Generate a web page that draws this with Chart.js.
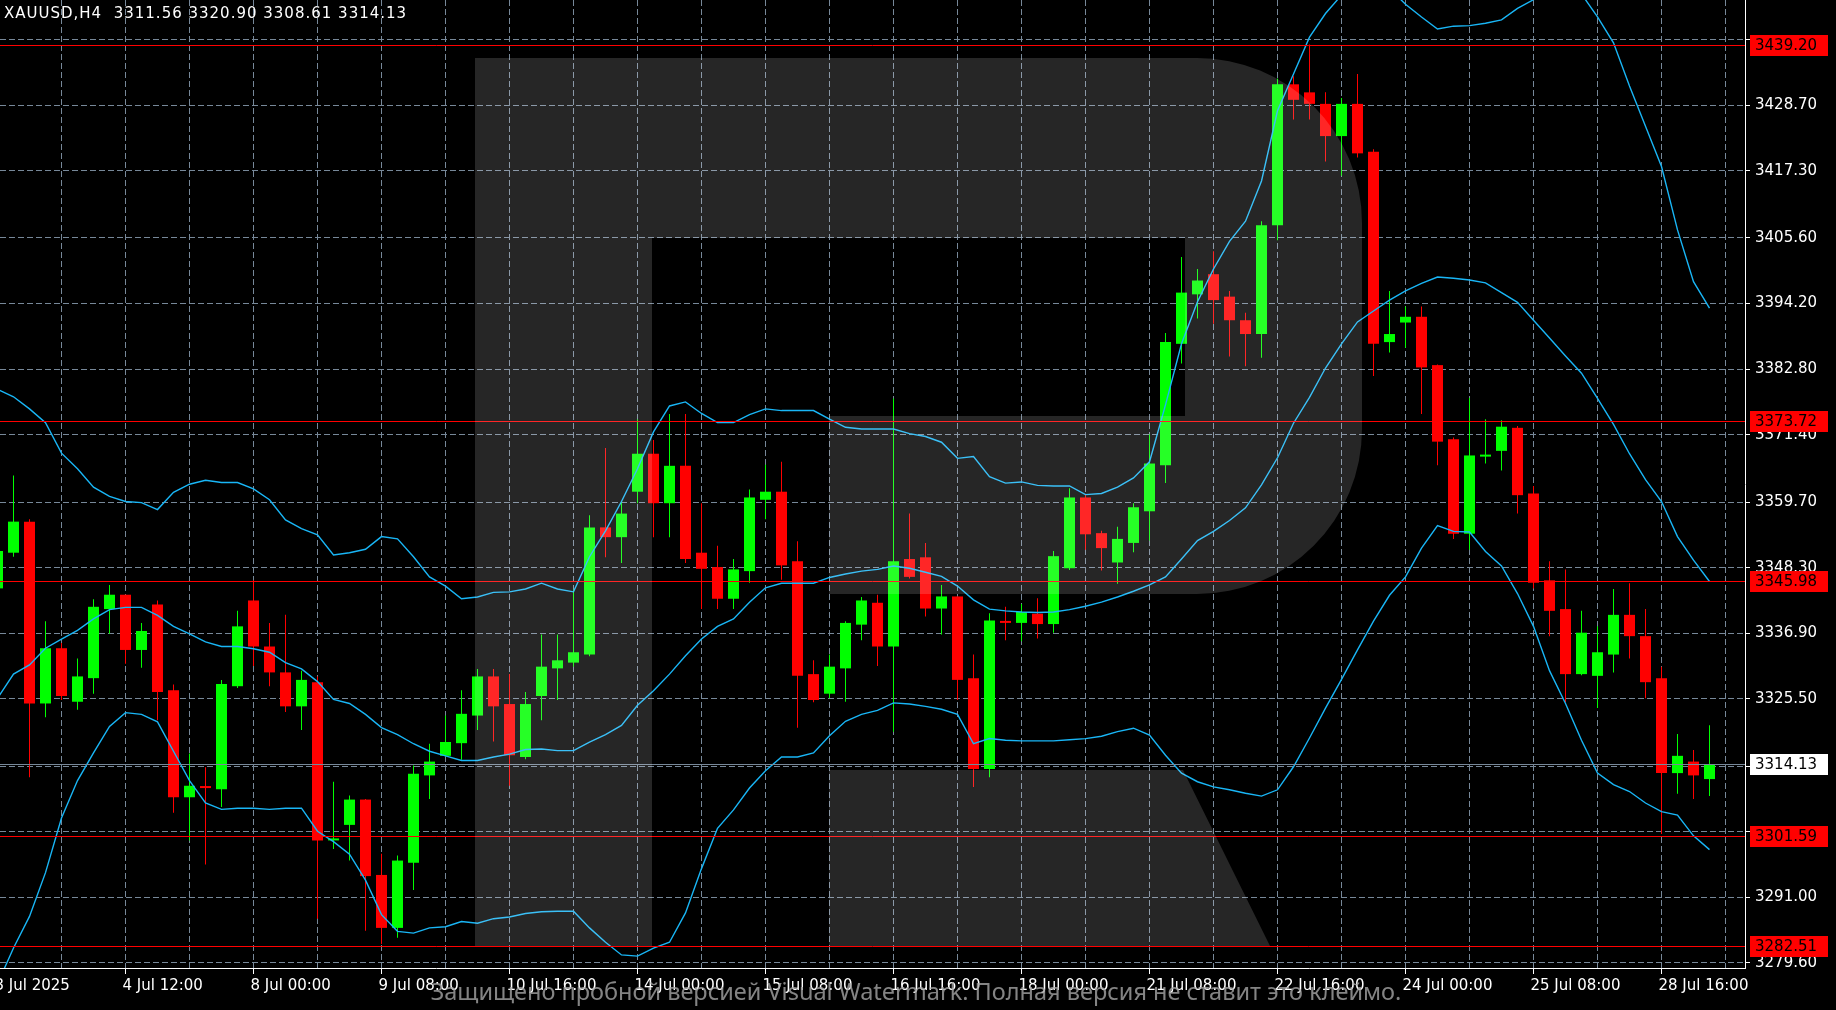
<!DOCTYPE html>
<html>
<head>
<meta charset="utf-8">
<script src="https://cdn.jsdelivr.net/npm/chart.js@4.4.1/dist/chart.umd.min.js"></script>
<style>
  html, body { margin: 0; padding: 0; background: #000; overflow: hidden; }
  canvas { display: block; }
</style>
</head>
<body>
<canvas id="chart" width="1836" height="1010"></canvas>
<script>
// XAUUSD H4, bar 0 = 3 Jul 2025 04:00 ... bar 107 = last bar
const opens = [
  3344.7, 3350.9, 3356.3, 3324.7, 3334.3, 3325.0, 3329.1, 3341.1, 3343.6, 3334.0,
  3341.9, 3327.0, 3308.4, 3310.3, 3309.8, 3327.7, 3342.6, 3334.6, 3330.1, 3324.2,
  3328.4, 3300.9, 3303.6, 3308.0, 3294.9, 3285.7, 3297.0, 3312.2, 3315.6, 3317.8,
  3322.6, 3329.4, 3324.6, 3315.4, 3326.0, 3330.8, 3331.8, 3333.2, 3355.3, 3353.6,
  3361.5, 3368.1, 3359.5, 3366.0, 3350.9, 3348.4, 3342.9, 3347.7, 3360.1, 3361.5,
  3349.4, 3329.8, 3326.4, 3330.8, 3338.4, 3342.2, 3334.6, 3349.8, 3350.1, 3341.2,
  3343.3, 3329.1, 3313.3, 3339.0, 3338.7, 3340.3, 3338.5, 3348.2, 3360.5, 3354.3,
  3349.2, 3352.6, 3358.1, 3366.1, 3387.2, 3395.8, 3399.3, 3395.4, 3391.3, 3388.9,
  3407.8, 3432.3, 3430.9, 3428.9, 3423.3, 3428.9, 3420.6, 3387.5, 3390.9, 3391.9,
  3383.5, 3370.6, 3354.2, 3367.6, 3368.6, 3372.6, 3361.2, 3346.1, 3341.1, 3329.8,
  3329.5, 3333.2, 3340.1, 3336.4, 3329.1, 3312.6, 3314.6, 3311.56
];
const highs = [
  3352.5, 3364.3, 3356.7, 3339.0, 3335.2, 3332.5, 3342.8, 3345.3, 3343.6, 3338.7,
  3342.6, 3328.0, 3316.0, 3313.6, 3328.8, 3340.8, 3346.1, 3338.7, 3340.1, 3330.4,
  3329.4, 3311.1, 3308.7, 3308.1, 3298.6, 3298.3, 3313.9, 3317.7, 3322.6, 3327.0,
  3330.7, 3330.7, 3329.8, 3326.7, 3336.7, 3336.7, 3344.5, 3357.4, 3369.1, 3359.8,
  3374.1, 3370.5, 3375.0, 3375.0, 3359.5, 3352.1, 3349.8, 3361.9, 3366.2, 3366.7,
  3352.9, 3332.2, 3333.2, 3339.0, 3343.2, 3343.6, 3377.7, 3357.7, 3352.6, 3345.3,
  3343.3, 3333.2, 3340.4, 3341.5, 3342.0, 3343.0, 3351.2, 3362.1, 3361.0, 3354.7,
  3355.4, 3359.5, 3371.5, 3389.1, 3402.3, 3400.2, 3403.3, 3396.4, 3392.6, 3408.5,
  3433.3, 3433.7, 3439.2, 3430.9, 3429.9, 3434.1, 3421.0, 3396.4, 3393.7, 3393.7,
  3383.6, 3370.9, 3377.8, 3374.1, 3373.9, 3372.9, 3362.5, 3349.4, 3348.0, 3340.8,
  3338.1, 3344.6, 3345.6, 3341.1, 3331.1, 3319.4, 3316.6, 3320.90
];
const lows = [
  3343.0, 3350.2, 3311.9, 3322.3, 3325.3, 3323.6, 3326.4, 3336.8, 3331.6, 3330.9,
  3321.8, 3305.7, 3300.9, 3296.7, 3306.7, 3327.4, 3331.2, 3327.7, 3323.2, 3320.1,
  3287.3, 3299.4, 3297.4, 3285.2, 3282.9, 3284.0, 3292.3, 3308.1, 3315.4, 3314.9,
  3320.1, 3318.1, 3310.4, 3315.0, 3321.8, 3325.3, 3331.1, 3332.9, 3350.1, 3349.1,
  3359.5, 3353.6, 3353.6, 3349.1, 3341.1, 3341.1, 3341.1, 3345.7, 3356.7, 3346.2,
  3320.5, 3324.9, 3325.6, 3325.0, 3335.7, 3331.2, 3319.8, 3346.4, 3339.8, 3336.7,
  3325.3, 3310.2, 3311.9, 3335.7, 3335.5, 3336.0, 3337.0, 3347.9, 3351.4, 3347.8,
  3345.5, 3351.0, 3353.0, 3363.0, 3383.8, 3391.6, 3390.7, 3385.0, 3383.3, 3384.8,
  3405.2, 3426.2, 3426.2, 3418.9, 3416.4, 3419.6, 3381.6, 3385.7, 3386.5, 3375.0,
  3366.1, 3353.3, 3351.4, 3366.4, 3365.2, 3357.7, 3344.7, 3336.4, 3324.9, 3329.6,
  3323.9, 3330.1, 3332.5, 3325.6, 3302.0, 3309.0, 3308.1, 3308.61
];
const closes = [
  3351.2, 3356.3, 3324.7, 3334.3, 3326.0, 3329.4, 3341.5, 3343.6, 3334.0, 3337.3,
  3326.7, 3308.4, 3310.4, 3310.0, 3328.1, 3338.1, 3334.6, 3330.1, 3324.2, 3328.8,
  3300.9, 3301.2, 3308.0, 3294.7, 3285.7, 3297.4, 3312.5, 3314.6, 3318.0, 3322.9,
  3329.4, 3324.2, 3315.7, 3324.6, 3331.1, 3332.2, 3333.6, 3355.3, 3353.6, 3357.7,
  3368.1, 3359.5, 3366.0, 3349.8, 3348.1, 3342.9, 3348.0, 3360.5, 3361.5, 3348.7,
  3329.5, 3325.3, 3331.1, 3338.7, 3342.6, 3334.6, 3349.4, 3346.7, 3341.2, 3343.3,
  3328.8, 3313.3, 3339.1, 3338.7, 3340.6, 3338.5, 3350.3, 3360.5, 3354.1, 3351.7,
  3353.3, 3358.8, 3366.4, 3387.5, 3396.1, 3398.2, 3394.8, 3391.3, 3388.9, 3407.8,
  3432.3, 3429.6, 3428.9, 3423.3, 3428.9, 3420.3, 3387.2, 3388.9, 3391.9, 3383.1,
  3370.2, 3354.2, 3367.8, 3367.9, 3372.8, 3360.9, 3345.7, 3340.8, 3329.8, 3337.0,
  3333.6, 3340.1, 3336.4, 3328.4, 3312.6, 3315.6, 3312.2, 3314.13
];

// Bollinger bands
const bbUpper = [
  3379.3, 3378.0, 3375.9, 3373.5, 3368.2, 3365.5, 3362.3, 3360.7, 3359.8, 3359.6,
  3358.4, 3361.4, 3362.8, 3363.5, 3363.1, 3363.1, 3362.0, 3360.1, 3356.6, 3355.1,
  3354.0, 3350.5, 3350.9, 3351.5, 3353.7, 3353.3, 3350.2, 3346.7, 3345.1, 3342.9,
  3343.2, 3344.0, 3344.1, 3344.6, 3345.6, 3344.6, 3344.1, 3350.2, 3354.7, 3359.8,
  3365.5, 3371.9, 3376.4, 3377.1, 3375.1, 3373.5, 3373.5, 3374.9, 3375.9, 3375.6,
  3375.6, 3375.6, 3374.1, 3372.7, 3372.4, 3372.4, 3372.4, 3371.6, 3371.1, 3370.1,
  3367.3, 3367.6, 3364.1, 3363.0, 3363.2, 3362.6, 3362.5, 3362.5, 3361.0, 3361.2,
  3362.3, 3363.9, 3366.7, 3376.6, 3387.2, 3394.5, 3400.2, 3405.0, 3408.5, 3415.5,
  3427.7, 3434.1, 3440.5, 3444.6, 3447.8, 3450.0, 3451.0, 3449.0, 3446.2, 3444.0,
  3441.9, 3442.4, 3442.5, 3442.9, 3443.5, 3445.5, 3447.0, 3448.5, 3449.0, 3448.0,
  3444.0, 3439.5, 3432.0, 3425.0, 3418.0, 3407.0, 3398.0, 3393.4
];
const bbMiddle = [
  3325.6, 3329.8, 3331.4, 3334.3, 3335.9, 3337.4, 3339.4, 3341.0, 3341.4, 3341.4,
  3340.0, 3338.1, 3336.8, 3335.4, 3334.6, 3334.6, 3334.2, 3333.6, 3331.8, 3330.7,
  3328.5, 3325.4, 3324.7, 3322.8, 3320.5, 3319.3, 3317.7, 3316.4, 3315.6, 3314.8,
  3314.8, 3315.4, 3315.9, 3316.7, 3316.8, 3316.5, 3316.5, 3318.0, 3319.3, 3320.9,
  3324.4, 3326.9, 3329.8, 3333.0, 3335.9, 3338.1, 3339.4, 3342.3, 3344.8, 3345.6,
  3345.6, 3345.6, 3346.6, 3347.2, 3347.7, 3348.0, 3348.6, 3348.2, 3347.5, 3346.8,
  3345.1, 3342.7, 3341.1, 3340.8, 3340.6, 3340.5, 3340.6, 3341.0, 3341.6, 3342.3,
  3343.2, 3344.2, 3345.3, 3346.7, 3349.8, 3353.0, 3354.6, 3356.5, 3358.7, 3362.7,
  3367.4, 3373.4, 3377.9, 3383.0, 3387.2, 3391.0, 3392.9, 3394.8, 3396.4, 3397.7,
  3398.8, 3398.6, 3398.3, 3397.8, 3396.1, 3394.4, 3391.3, 3388.2, 3385.1, 3382.1,
  3377.7, 3373.2, 3368.1, 3363.6, 3359.8, 3353.7, 3349.6, 3345.9
];
const bbLower = [
  3276.0, 3282.2, 3287.7, 3295.3, 3304.8, 3311.3, 3316.1, 3320.7, 3323.1, 3322.8,
  3321.5, 3316.4, 3311.3, 3307.4, 3306.3, 3306.5, 3306.5, 3306.3, 3306.5, 3306.5,
  3302.5, 3300.7, 3298.5, 3294.0, 3288.0, 3285.1, 3284.8, 3285.7, 3285.9, 3286.8,
  3286.5, 3287.3, 3287.6, 3288.2, 3288.5, 3288.6, 3288.6, 3285.7, 3283.2, 3281.0,
  3280.8, 3282.2, 3283.2, 3288.3, 3296.0, 3303.0, 3306.2, 3310.0, 3313.0, 3315.4,
  3315.4, 3316.1, 3319.1, 3321.6, 3322.8, 3323.5, 3324.8, 3324.6, 3324.2, 3323.7,
  3322.8, 3317.7, 3318.6, 3318.3, 3318.2, 3318.2, 3318.2, 3318.4, 3318.6, 3319.0,
  3319.8, 3320.4, 3319.2, 3315.7, 3312.6, 3311.1, 3310.2, 3309.7, 3309.1, 3308.6,
  3309.7, 3313.7, 3318.7, 3323.9, 3328.9, 3334.0, 3339.0, 3343.5, 3346.7, 3351.7,
  3355.6, 3354.6, 3354.5, 3351.1, 3348.6, 3343.8, 3338.1, 3330.4, 3324.7, 3318.3,
  3312.6, 3310.6, 3309.4, 3307.4, 3305.9, 3305.3, 3301.7, 3299.3
];

// time axis: labelled bars and their texts, grid every 4 bars
const labelBars = [0, 8, 16, 24, 32, 40, 48, 56, 64, 72, 80, 88, 96, 104];
const labelTexts = ['3 Jul 2025', '4 Jul 12:00', '8 Jul 00:00', '9 Jul 08:00', '10 Jul 16:00',
  '14 Jul 00:00', '15 Jul 08:00', '16 Jul 16:00', '18 Jul 00:00', '21 Jul 08:00',
  '22 Jul 16:00', '24 Jul 00:00', '25 Jul 08:00', '28 Jul 16:00'];
const gridBars = [0, 4, 8, 12, 16, 20, 24, 28, 32, 36, 40, 44, 48, 52, 56, 60, 64, 68, 72,
  76, 80, 84, 88, 92, 96, 100, 104, 108];

// price axis
const priceTicks = [3279.60, 3291.00, 3302.40, 3313.80, 3325.50, 3336.90, 3348.30, 3359.70,
  3371.40, 3382.80, 3394.20, 3405.60, 3417.30, 3428.70, 3440.10];
const hiddenTicks = [3302.40, 3313.80, 3440.10];
const levels = [3439.20, 3373.72, 3345.98, 3301.59, 3282.51];
const lastPrice = 3314.13;
const header = 'XAUUSD,H4  3311.56 3320.90 3308.61 3314.13';
const footer = 'Защищено пробной версией Visual Watermark. Полная версия не ставит это клеймо.';

const BULL = '#00ff00';
const BEAR = '#ff0000';
const BAND = '#19b6f6';
const GRID = '#778899';
const FONT = "'DejaVu Sans', sans-serif";

const candleColors = closes.map((c, i) => (c >= opens[i] ? BULL : BEAR));
const bodies = opens.map((o, i) => ({ x: i, y: [o, closes[i]] }));
const wicks = lows.map((l, i) => ({ x: i, y: [l, highs[i]] }));
const band = arr => arr.map((v, i) => ({ x: i, y: v }));

const lineSet = (label, arr) => ({
  type: 'line', label, data: band(arr), borderColor: BAND, borderWidth: 1.4,
  pointRadius: 0, tension: 0, fill: false, order: 0
});

const overlay = {
  id: 'overlay',
  afterDatasetsDraw(chart) {
    const { ctx, chartArea: a, scales: { y } } = chart;
    ctx.save();
    ctx.beginPath();
    ctx.rect(a.left, a.top, a.right - a.left, a.bottom - a.top);
    ctx.clip();
    ctx.lineWidth = 1;
    ctx.strokeStyle = GRID;
    let py = Math.round(y.getPixelForValue(lastPrice)) + 0.5;
    ctx.beginPath(); ctx.moveTo(a.left, py); ctx.lineTo(a.right, py); ctx.stroke();
    ctx.strokeStyle = '#ff0000';
    levels.forEach(v => {
      py = Math.round(y.getPixelForValue(v)) + 0.5;
      ctx.beginPath(); ctx.moveTo(a.left, py); ctx.lineTo(a.right, py); ctx.stroke();
    });
    ctx.restore();
  },
  afterDraw(chart) {
    const { ctx, chartArea: a, scales: { y } } = chart;
    ctx.save();

    // watermark logo, semi transparent over the plot
    ctx.fillStyle = 'rgba(255,255,255,0.148)';
    ctx.beginPath();
    ctx.moveTo(475, 58);
    ctx.lineTo(1197, 58);
    ctx.arcTo(1362, 58, 1362, 223, 165);
    ctx.lineTo(1362, 429);
    ctx.arcTo(1362, 594, 1197, 594, 165);
    ctx.lineTo(829, 594);
    ctx.lineTo(829, 416);
    ctx.lineTo(1185, 416);
    ctx.lineTo(1185, 238);
    ctx.lineTo(652, 238);
    ctx.lineTo(652, 946);
    ctx.lineTo(475, 946);
    ctx.closePath();
    ctx.moveTo(829, 770);
    ctx.lineTo(1183, 770);
    ctx.lineTo(1270, 946);
    ctx.lineTo(829, 946);
    ctx.closePath();
    ctx.fill();

    // price boxes on the right axis
    ctx.font = '15px ' + FONT;
    ctx.textBaseline = 'middle';
    ctx.textAlign = 'left';
    const box = (v, bg) => {
      const py = Math.round(y.getPixelForValue(v));
      ctx.fillStyle = bg;
      ctx.fillRect(a.right + 5, py - 10, 78, 21);
      ctx.fillStyle = '#000';
      ctx.fillText(v.toFixed(2), a.right + 10, py + 1);
    };
    levels.forEach(v => box(v, '#ff0000'));
    box(lastPrice, '#ffffff');

    // header
    ctx.fillStyle = '#ffffff';
    ctx.letterSpacing = '1px';
    ctx.fillText(header, 4, 14);
    ctx.letterSpacing = '0px';

    // trial watermark text
    let size = 22;
    ctx.font = size + "px 'Noto Sans', sans-serif";
    size = size * 972 / ctx.measureText(footer).width;
    ctx.font = size.toFixed(1) + "px 'Noto Sans', sans-serif";
    ctx.textAlign = 'center';
    ctx.fillStyle = 'rgba(165,165,165,0.8)';
    ctx.fillText(footer, 916, 993);
    ctx.restore();
  }
};

new Chart(document.getElementById('chart'), {
  type: 'bar',
  data: {
    datasets: [
      lineSet('upper', bbUpper),
      lineSet('middle', bbMiddle),
      lineSet('lower', bbLower),
      {
        label: 'body', data: bodies, backgroundColor: candleColors,
        barThickness: 11, minBarLength: 2, grouped: false, inflateAmount: 0,
        borderWidth: 0, order: 1
      },
      {
        label: 'wick', data: wicks, backgroundColor: candleColors,
        barThickness: 1, grouped: false, inflateAmount: 0, borderWidth: 0, order: 2
      }
    ]
  },
  options: {
    responsive: false,
    animation: false,
    devicePixelRatio: 1,
    layout: { padding: 0, autoPadding: false },
    plugins: { legend: { display: false }, tooltip: { enabled: false } },
    scales: {
      x: {
        type: 'linear',
        min: 2.5 / 16,
        max: 1747.5 / 16,
        offset: false,
        afterBuildTicks: s => { s.ticks = gridBars.map(v => ({ value: v })); },
        afterFit: s => {
          s.height = 42;
          s.paddingLeft = 0;
          s.paddingRight = 0;
        },
        grid: {
          offset: false,
          color: GRID,
          lineWidth: 1,
          tickLength: 6,
          tickColor: c => (c.tick && labelBars.includes(c.tick.value) ? '#ffffff' : 'rgba(0,0,0,0)')
        },
        border: { display: true, color: '#ffffff', width: 1, dash: [6, 3] },
        ticks: {
          color: '#ffffff',
          font: { family: 'DejaVu Sans', size: 15 },
          align: 'start',
          autoSkip: false,
          maxRotation: 0,
          minRotation: 0,
          padding: 3,
          labelOffset: -3,
          callback: v => {
            const k = labelBars.indexOf(v);
            return k >= 0 ? labelTexts[k] : '';
          }
        }
      },
      y: {
        type: 'linear',
        position: 'right',
        min: 3278.73,
        max: 3446.95,
        afterBuildTicks: s => { s.ticks = priceTicks.map(v => ({ value: v })); },
        afterFit: s => {
          s.width = 91;
          s.paddingTop = 0;
          s.paddingBottom = 0;
        },
        grid: { color: GRID, lineWidth: 1, tickLength: 5, tickColor: '#ffffff' },
        border: { display: true, color: '#ffffff', width: 1, dash: [6, 3] },
        ticks: {
          color: '#ffffff',
          font: { family: 'DejaVu Sans', size: 15 },
          padding: 5,
          autoSkip: false,
          callback: v => (hiddenTicks.includes(v) ? '' : v.toFixed(2))
        }
      }
    }
  },
  plugins: [overlay]
});
</script>
</body>
</html>
